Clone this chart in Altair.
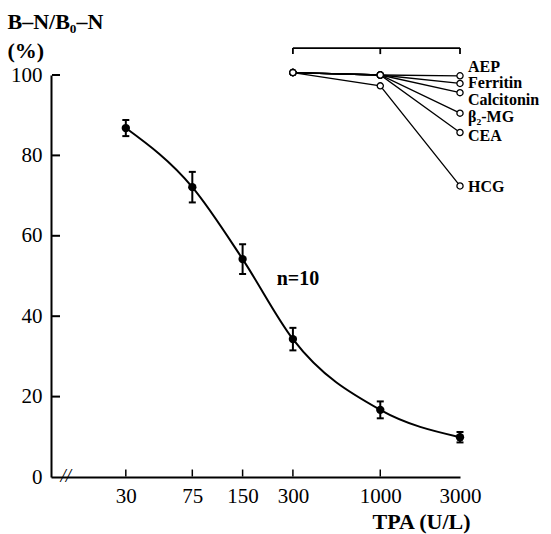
import altair as alt
import pandas as pd

# ---- main TPA standard curve ----
conc = [30, 75, 150, 300, 1000, 3000]
mean_pct = [86.8, 72.1, 54.2, 34.3, 16.7, 9.9]
err_pct = [2.0, 3.8, 3.7, 2.8, 2.1, 1.3]

# ---- cross-reactivity ----
analytes = ["AEP", "Ferritin", "Calcitonin", "β₂-MG", "CEA", "HCG"]
cross_conc = [300, 1000, 3000]
cr_at_300 = [100.6, 100.6, 100.6, 100.6, 100.6, 100.6]
cr_at_1000 = [100.0, 100.0, 100.0, 100.0, 100.0, 97.3]
cr_at_3000 = [99.8, 97.9, 95.6, 90.5, 85.7, 72.4]
label_pos = [102.0, 97.9, 93.8, 89.6, 84.8, 72.1]

bracket_x = [300, 1000, 3000]
bracket_top = 106.7
bracket_tick_end = 105.2

x_ticks = [30, 75, 150, 300, 1000, 3000]
y_ticks = [0, 20, 40, 60, 80, 100]
n_label = "n=10"
n_label_x = 240
n_label_y = 49.3

FONT = "Liberation Serif"
W, H = 409, 402

main_df = pd.DataFrame({
    "conc": conc,
    "mean": mean_pct,
    "lo": [m - e for m, e in zip(mean_pct, err_pct)],
    "hi": [m + e for m, e in zip(mean_pct, err_pct)],
})

rows = []
for i, a in enumerate(analytes):
    for c, v in zip(cross_conc, [cr_at_300[i], cr_at_1000[i], cr_at_3000[i]]):
        rows.append({"analyte": a, "conc": c, "value": v})
cross_df = pd.DataFrame(rows)
label_df = pd.DataFrame({"analyte": analytes, "conc": [3000] * len(analytes), "value": label_pos})
bracket_df = pd.DataFrame({"conc": bracket_x, "top": [bracket_top] * 3, "bottom": [bracket_tick_end] * 3})

xscale = alt.Scale(type="log", domain=[10.7, 3000], nice=False)
yscale = alt.Scale(domain=[0, 100], nice=False, zero=False)

x_axis = alt.Axis(
    values=x_ticks, tickSize=0, grid=False, domainColor="black", domainWidth=2,
    labelFont=FONT, labelFontSize=21, labelColor="black", labelPadding=8,
    labelFlush=False, labelOverlap=False, format="d",
    title="TPA (U/L)", titleFont=FONT, titleFontSize=22, titleFontWeight="bold",
    titleColor="black", titleX=419, titleY=51, titleAlign="right",
    titleBaseline="alphabetic", titleAnchor="end",
)
y_axis = alt.Axis(
    values=y_ticks, tickSize=0, grid=False, domainColor="black", domainWidth=2,
    labelFont=FONT, labelFontSize=21, labelColor="black", labelPadding=9,
    labelOverlap=False, format="d",
    title=["B–N/B₀–N", "(%)"], titleFont=FONT, titleFontSize=22,
    titleFontWeight="bold", titleColor="black", titleAngle=0, titleAlign="left",
    titleBaseline="alphabetic", titleX=-44, titleY=-47, titleLineHeight=29,
)

curve = alt.Chart(main_df).mark_line(color="black", strokeWidth=2, interpolate="monotone").encode(
    x=alt.X("conc:Q", scale=xscale, axis=x_axis),
    y=alt.Y("mean:Q", scale=yscale, axis=y_axis),
)
err = alt.Chart(main_df).mark_rule(color="black", strokeWidth=2).encode(
    x=alt.X("conc:Q", scale=xscale), y=alt.Y("lo:Q", scale=yscale), y2="hi:Q"
)
caps = alt.Chart(main_df).transform_fold(["lo", "hi"], as_=["k", "v"]).mark_tick(
    color="black", orient="horizontal", size=7, thickness=2, opacity=1
).encode(x=alt.X("conc:Q", scale=xscale), y=alt.Y("v:Q", scale=yscale))
pts = alt.Chart(main_df).mark_circle(color="black", size=70, opacity=1).encode(
    x=alt.X("conc:Q", scale=xscale), y=alt.Y("mean:Q", scale=yscale)
)

cross_lines = alt.Chart(cross_df).mark_line(color="black", strokeWidth=1.3).encode(
    x=alt.X("conc:Q", scale=xscale), y=alt.Y("value:Q", scale=yscale), detail="analyte:N"
)
cross_pts = alt.Chart(cross_df).mark_point(
    shape="circle", fill="white", fillOpacity=1, stroke="black", strokeWidth=1.3, size=38, opacity=1
).encode(x=alt.X("conc:Q", scale=xscale), y=alt.Y("value:Q", scale=yscale))
cross_labels = alt.Chart(label_df).mark_text(
    align="left", baseline="middle", dx=8, font=FONT, fontSize=16, fontWeight="bold", color="black"
).encode(x=alt.X("conc:Q", scale=xscale), y=alt.Y("value:Q", scale=yscale), text="analyte:N")

bracket_h = alt.Chart(bracket_df).mark_rule(color="black", strokeWidth=1.8).encode(
    x=alt.X("min(conc):Q", scale=xscale), x2="max(conc):Q", y=alt.Y("max(top):Q", scale=yscale)
)
bracket_v = alt.Chart(bracket_df).mark_rule(color="black", strokeWidth=1.8).encode(
    x=alt.X("conc:Q", scale=xscale), y=alt.Y("top:Q", scale=yscale), y2="bottom:Q"
)

n_text = alt.Chart(pd.DataFrame({"conc": [n_label_x], "v": [n_label_y], "t": [n_label]})).mark_text(
    align="left", baseline="middle", font=FONT, fontSize=20, fontWeight="bold", color="black"
).encode(x=alt.X("conc:Q", scale=xscale), y=alt.Y("v:Q", scale=yscale), text="t:N")

brk = alt.Chart(pd.DataFrame({"conc": [13.1], "v": [0], "t": ["//"]})).mark_text(
    align="center", baseline="middle", font=FONT, fontSize=19, fontStyle="italic", color="black", dy=-1
).encode(x=alt.X("conc:Q", scale=xscale), y=alt.Y("v:Q", scale=yscale), text="t:N")

ytick_marks = alt.Chart(pd.DataFrame({"v": y_ticks[1:]})).mark_tick(
    color="black", orient="horizontal", size=8, thickness=2, opacity=1
).encode(x=alt.value(5), y=alt.Y("v:Q", scale=yscale))
xtick_marks = alt.Chart(pd.DataFrame({"conc": x_ticks[:-1]})).mark_tick(
    color="black", orient="vertical", size=7, thickness=1.5, opacity=1
).encode(x=alt.X("conc:Q", scale=xscale), y=alt.value(H - 4))

chart = alt.layer(
    curve, err, caps, pts, cross_lines, cross_pts, cross_labels,
    bracket_h, bracket_v, n_text, brk, ytick_marks, xtick_marks,
).properties(
    width=W, height=H,
    autosize=alt.AutoSizeParams(type="none"),
    padding={"left": 51, "top": 75, "right": 91, "bottom": 57},
    background="white",
).configure_view(stroke=None)

chart.save("out.html", embed_options={"renderer": "svg", "actions": False})
